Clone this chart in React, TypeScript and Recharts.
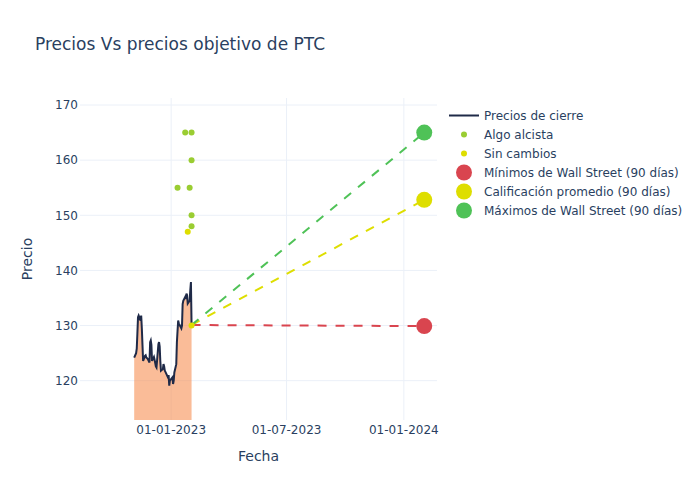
import React from 'react';
import {
  ComposedChart,
  Area,
  Line,
  Scatter,
  XAxis,
  YAxis,
  CartesianGrid
} from 'recharts';

// closing prices
const closeDates = [
  '2022-11-04', '2022-11-07', '2022-11-08', '2022-11-09', '2022-11-10', '2022-11-11',
  '2022-11-14', '2022-11-15', '2022-11-16', '2022-11-17', '2022-11-18',
  '2022-11-21', '2022-11-22', '2022-11-23', '2022-11-25',
  '2022-11-28', '2022-11-29', '2022-11-30', '2022-12-01', '2022-12-02',
  '2022-12-05', '2022-12-06', '2022-12-07', '2022-12-08', '2022-12-09',
  '2022-12-12', '2022-12-13', '2022-12-14', '2022-12-15', '2022-12-16',
  '2022-12-19', '2022-12-20', '2022-12-21', '2022-12-22', '2022-12-23',
  '2022-12-27', '2022-12-28', '2022-12-29', '2022-12-30',
  '2023-01-03', '2023-01-04', '2023-01-05', '2023-01-06',
  '2023-01-09', '2023-01-10', '2023-01-11', '2023-01-12', '2023-01-13',
  '2023-01-17', '2023-01-18', '2023-01-19', '2023-01-20',
  '2023-01-23', '2023-01-24', '2023-01-25', '2023-01-26', '2023-01-27',
  '2023-01-30', '2023-01-31', '2023-02-01', '2023-02-02'
];
const closePrices = [
  124.2, 125.0, 125.8, 128.5, 131.5, 131.8,
  130.9, 131.8, 129.5, 126.5, 123.6,
  124.5, 124.6, 124.2, 124.0,
  123.3, 127.0, 127.3, 126.5, 123.6,
  124.3, 123.8, 123.2, 122.6, 122.4,
  126.6, 127.0, 126.2, 123.5, 121.8,
  122.1, 123.0, 122.6, 121.8, 121.6,
  120.6, 121.0, 119.1, 120.0,
  120.6, 119.4, 120.0, 121.5,
  123.0, 127.0, 129.0, 130.9, 130.4,
  129.5, 130.0, 133.9, 134.5,
  135.2, 134.8, 135.8, 135.5, 134.0,
  134.5, 136.4, 137.9, 130.1
];

// analyst ratings
const bullishDates = ['2023-01-11', '2023-01-23', '2023-02-02', '2023-02-02', '2023-01-30', '2023-02-02', '2023-02-02'];
const bullishTargets = [155, 165, 165, 160, 155, 150, 148];
const neutralDates = ['2023-01-27', '2023-02-02'];
const neutralTargets = [147, 130];

// Wall Street targets (90 days)
const forecastStart = '2023-02-02';
const forecastEnd = '2024-02-02';
const lastClose = 130.1;
const targetLow = 129.9;
const targetAvg = 152.8;
const targetHigh = 165;

const xTicks = ['2023-01-01', '2023-07-01', '2024-01-01'];
const yTicks = [120, 130, 140, 150, 160, 170];

const ts = (d: string) => new Date(d + 'T00:00:00Z').getTime();
const fmt = (v: number) => {
  const d = new Date(v);
  const dd = String(d.getUTCDate()).padStart(2, '0');
  const mm = String(d.getUTCMonth() + 1).padStart(2, '0');
  return `${dd}-${mm}-${d.getUTCFullYear()}`;
};

const priceData = closeDates.map((d, i) => ({ t: ts(d), close: closePrices[i] }));
const bullishData = bullishDates.map((d, i) => ({ t: ts(d), v: bullishTargets[i] }));
const neutralData = neutralDates.map((d, i) => ({ t: ts(d), v: neutralTargets[i] }));
const lineTo = (target: number) => [
  { t: ts(forecastStart), v: lastClose },
  { t: ts(forecastEnd), v: target }
];

const RED = '#d9454f';
const YELLOW = '#dede00';
const GREEN = '#4fc257';
const LIME = '#9acd32';
const NAVY = '#1f2a48';
const TEXT = '#2a3f5f';
const GRID = '#ebf0f8';
const FONT = '"DejaVu Sans", sans-serif';
const HIDDEN = { stroke: 'transparent' };

const dot = (r: number, color: string) => (props: any) =>
  <circle cx={props.cx} cy={props.cy} r={r} fill={color} />;

const legendItems = [
  { label: 'Precios de cierre', kind: 'line', color: NAVY },
  { label: 'Algo alcista', kind: 'small', color: LIME },
  { label: 'Sin cambios', kind: 'small', color: YELLOW },
  { label: 'Mínimos de Wall Street (90 días)', kind: 'big', color: RED },
  { label: 'Calificación promedio (90 días)', kind: 'big', color: YELLOW },
  { label: 'Máximos de Wall Street (90 días)', kind: 'big', color: GREEN }
];

const App = () => {
  return (
    <div style={{ position: 'absolute', left: 0, top: 0, width: 700, height: 500, background: '#fff', fontFamily: FONT }}>
      <div style={{ position: 'absolute', left: 35, top: 34, fontSize: 17, color: TEXT, whiteSpace: 'nowrap' }}>
        Precios Vs precios objetivo de PTC
      </div>
      <ComposedChart
        width={700}
        height={500}
        data={priceData}
        margin={{ top: 98, right: 263, bottom: 50, left: 30 }}
      >
        <CartesianGrid stroke={GRID} strokeWidth={1} syncWithTicks fill="none" />
        <XAxis
          dataKey="t"
          type="number"
          domain={[ts('2022-08-11'), ts('2024-02-22')]}
          ticks={xTicks.map(ts)}
          tickFormatter={fmt}
          allowDataOverflow
          axisLine={HIDDEN}
          tickLine={HIDDEN}
          tickSize={4}
          tickMargin={1}
          height={30}
          tick={{ fill: TEXT, fontSize: 12, fontFamily: FONT }}
        />
        <YAxis
          type="number"
          domain={[112.87, 171.27]}
          ticks={yTicks}
          allowDataOverflow
          axisLine={HIDDEN}
          tickLine={HIDDEN}
          tickSize={2}
          tickMargin={0}
          width={50}
          tick={{ fill: TEXT, fontSize: 12, fontFamily: FONT }}
        />
        <Area
          dataKey="close"
          type="linear"
          stroke={NAVY}
          strokeWidth={2}
          fill="#f78f54"
          fillOpacity={0.6}
          isAnimationActive={false}
        />
        <Line data={lineTo(targetLow)} dataKey="v" stroke={RED} strokeWidth={2} strokeDasharray="9 9" dot={false} isAnimationActive={false} />
        <Line data={lineTo(targetAvg)} dataKey="v" stroke={YELLOW} strokeWidth={2} strokeDasharray="9 9" dot={false} isAnimationActive={false} />
        <Line data={lineTo(targetHigh)} dataKey="v" stroke={GREEN} strokeWidth={2} strokeDasharray="9 9" dot={false} isAnimationActive={false} />
        <Scatter data={bullishData} dataKey="v" shape={dot(3, LIME)} isAnimationActive={false} />
        <Scatter data={neutralData} dataKey="v" shape={dot(3, YELLOW)} isAnimationActive={false} />
        <Scatter data={[{ t: ts(forecastEnd), v: targetLow }]} dataKey="v" shape={dot(8, RED)} isAnimationActive={false} />
        <Scatter data={[{ t: ts(forecastEnd), v: targetAvg }]} dataKey="v" shape={dot(8, YELLOW)} isAnimationActive={false} />
        <Scatter data={[{ t: ts(forecastEnd), v: targetHigh }]} dataKey="v" shape={dot(8, GREEN)} isAnimationActive={false} />
      </ComposedChart>
      <div style={{ position: 'absolute', left: 238, top: 448, width: 40, textAlign: 'center', fontSize: 14, color: TEXT }}>
        Fecha
      </div>
      <div style={{ position: 'absolute', left: 27, top: 259, fontSize: 14, color: TEXT, transform: 'translate(-50%, -50%) rotate(-90deg)', whiteSpace: 'nowrap' }}>
        Precio
      </div>
      {legendItems.map((item, i) => (
        <div key={i} style={{ position: 'absolute', left: 448, top: 106 + i * 19, height: 19, display: 'flex', alignItems: 'center', fontSize: 12, color: TEXT, whiteSpace: 'nowrap' }}>
          <svg width={36} height={19} style={{ display: 'block' }}>
            {item.kind === 'line' && <line x1={1} x2={31} y1={9.5} y2={9.5} stroke={item.color} strokeWidth={2} />}
            {item.kind === 'small' && <circle cx={16} cy={9.5} r={3} fill={item.color} />}
            {item.kind === 'big' && <circle cx={16} cy={9.5} r={8} fill={item.color} />}
          </svg>
          <span>{item.label}</span>
        </div>
      ))}
    </div>
  );
};

export default App;
